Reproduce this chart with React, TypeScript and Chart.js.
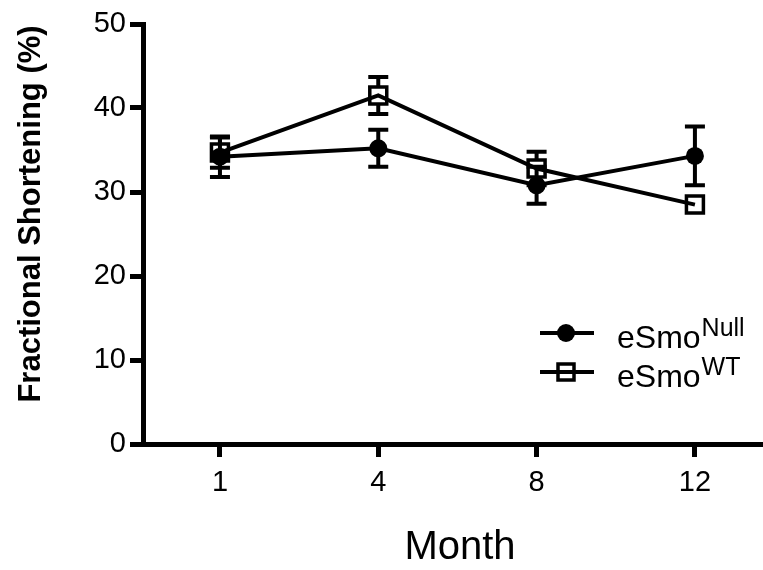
import React, { useEffect, useRef } from "react";
import { Chart, registerables } from "chart.js";

Chart.register(...registerables);

const months = ["1", "4", "8", "12"];
const nullMean = [34.2, 35.2, 30.8, 34.3];
const nullErr = [2.4, 2.2, 2.2, 3.5];
const wtMean = [34.7, 41.5, 32.8, 28.5];
const wtErr = [1.8, 2.2, 2.0, 0.5];
const yTicks = [0, 10, 20, 30, 40, 50];
const legendBase = "eSmo";
const legendSup = ["Null", "WT"];

const FONT = "'Liberation Sans', Arial, sans-serif";

export default function App() {
  const ref = useRef<HTMLCanvasElement | null>(null);

  useEffect(() => {
    document.body.style.margin = "0";
    document.body.style.overflow = "hidden";
    const canvas = ref.current;
    if (!canvas) return;

    const errorBars = {
      id: "errorBars",
      afterDatasetsDraw(chart: any) {
        const ctx = chart.ctx;
        const xs = chart.scales.x;
        const ys = chart.scales.y;
        const sets = [
          { mean: nullMean, err: nullErr, half: 0 },
          { mean: wtMean, err: wtErr, half: 9 },
        ];
        ctx.save();
        ctx.strokeStyle = "#000";
        ctx.lineWidth = 4;
        ctx.lineCap = "butt";
        sets.forEach((s) => {
          s.mean.forEach((m, i) => {
            const x = xs.getPixelForValue(i);
            const yc = ys.getPixelForValue(m);
            const yt = ys.getPixelForValue(m + s.err[i]);
            const yb = ys.getPixelForValue(m - s.err[i]);
            if (yc - yt <= s.half + 1) return;
            ctx.beginPath();
            ctx.moveTo(x, yc - s.half);
            ctx.lineTo(x, yt);
            ctx.moveTo(x, yc + s.half);
            ctx.lineTo(x, yb);
            ctx.stroke();
            ctx.beginPath();
            ctx.moveTo(x - 10, yt);
            ctx.lineTo(x + 10, yt);
            ctx.moveTo(x - 10, yb);
            ctx.lineTo(x + 10, yb);
            ctx.stroke();
          });
        });
        ctx.restore();
      },
    };

    const texts = {
      id: "texts",
      afterDraw(chart: any) {
        const ctx = chart.ctx;
        ctx.save();
        ctx.fillStyle = "#000";
        // Y title
        ctx.save();
        ctx.translate(31, 214);
        ctx.rotate(-Math.PI / 2);
        ctx.font = `bold 31px ${FONT}`;
        ctx.textAlign = "center";
        ctx.textBaseline = "middle";
        ctx.fillText("Fractional Shortening (%)", 0, 0);
        ctx.restore();
        // X title
        ctx.font = `40px ${FONT}`;
        ctx.textAlign = "center";
        ctx.textBaseline = "middle";
        ctx.fillText("Month", 460, 548);
        // Legend
        const rows = [333, 372];
        rows.forEach((ry, i) => {
          ctx.strokeStyle = "#000";
          ctx.lineWidth = 4;
          ctx.beginPath();
          ctx.moveTo(540, ry);
          ctx.lineTo(594, ry);
          ctx.stroke();
          if (i === 0) {
            ctx.beginPath();
            ctx.arc(566, ry, 9, 0, Math.PI * 2);
            ctx.fill();
          } else {
            ctx.lineWidth = 3.5;
            ctx.strokeRect(558, ry - 8, 16, 16);
          }
          ctx.textAlign = "left";
          ctx.textBaseline = "alphabetic";
          ctx.font = `32px ${FONT}`;
          ctx.fillText(legendBase, 617, ry + 15);
          const w = ctx.measureText(legendBase).width;
          ctx.font = `25px ${FONT}`;
          ctx.fillText(legendSup[i], 617 + w + 1, ry + 3);
        });
        ctx.restore();
      },
    };

    const chart = new Chart(canvas, {
      type: "line",
      data: {
        datasets: [
          {
            label: legendBase + legendSup[0],
            data: nullMean.map((v, i) => ({ x: i, y: v })),
            borderColor: "#000",
            backgroundColor: "#000",
            borderWidth: 4,
            pointStyle: "circle",
            pointRadius: 9,
            pointBorderWidth: 0,
            pointBackgroundColor: "#000",
            tension: 0,
            clip: false,
          },
          {
            label: legendBase + legendSup[1],
            data: wtMean.map((v, i) => ({ x: i, y: v })),
            borderColor: "#000",
            backgroundColor: "rgba(0,0,0,0)",
            borderWidth: 4,
            pointStyle: "rect",
            pointRadius: 12,
            pointBorderWidth: 3.5,
            pointBackgroundColor: "rgba(0,0,0,0)",
            pointBorderColor: "#000",
            tension: 0,
            clip: false,
          },
        ],
      },
      options: {
        animation: false,
        responsive: false,
        events: [],
        layout: { autoPadding: false, padding: { top: 24, left: 0, right: 0, bottom: 0 } },
        plugins: { legend: { display: false }, tooltip: { enabled: false } },
        scales: {
          x: {
            type: "linear",
            min: -0.486,
            max: 3.43,
            afterBuildTicks: (s: any) => {
              s.ticks = months.map((_, i) => ({ value: i }));
            },
            afterFit: (s: any) => {
              s.height = 126;
              s.paddingLeft = 0;
              s.paddingRight = 0;
            },
            ticks: {
              callback: (v: any) => months[v] ?? "",
              color: "#000",
              font: { family: FONT, size: 29 },
              padding: 9,
              maxRotation: 0,
              autoSkip: false,
            },
            grid: {
              drawOnChartArea: false,
              drawTicks: true,
              tickLength: 13,
              tickWidth: 5,
              tickColor: "#000",
            },
            border: { color: "#000", width: 5 },
          },
          y: {
            min: 0,
            max: 50,
            afterBuildTicks: (s: any) => {
              s.ticks = yTicks.map((v) => ({ value: v }));
            },
            afterFit: (s: any) => {
              s.width = 143;
              s.paddingTop = 0;
              s.paddingBottom = 0;
            },
            ticks: {
              color: "#000",
              font: { family: FONT, size: 29 },
              padding: 4,
            },
            grid: {
              drawOnChartArea: false,
              drawTicks: true,
              tickLength: 13,
              tickWidth: 5,
              tickColor: "#000",
            },
            border: { color: "#000", width: 5 },
          },
        },
      },
      plugins: [errorBars, texts],
    });
    return () => chart.destroy();
  }, []);

  return (
    <div style={{ width: 763, height: 570 }}>
      <canvas ref={ref} width={763} height={570} />
    </div>
  );
}
